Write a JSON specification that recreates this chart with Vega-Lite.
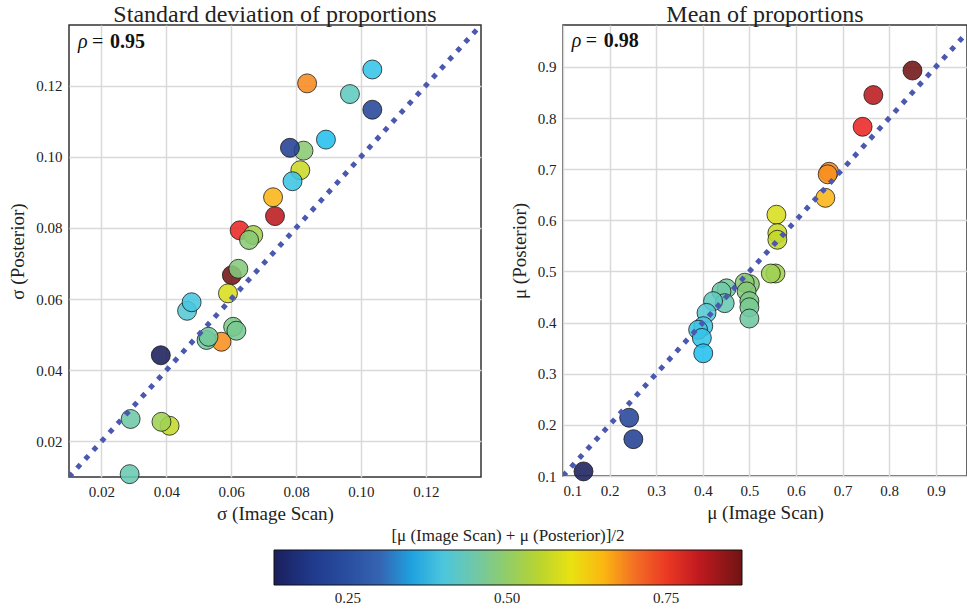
{
  "$schema": "https://vega.github.io/schema/vega-lite/v6.json",
  "padding": {"left": 8, "top": 2, "right": 0, "bottom": 0},
  "background": "white",
  "config": {
    "font": "Liberation Serif",
    "view": {"stroke": "#333333", "strokeWidth": 1.5},
    "concat": {"spacing": 27},
    "axis": {
      "grid": true, "gridColor": "#d9d9d9", "gridWidth": 1.5,
      "domain": false, "ticks": false,
      "labelFont": "Liberation Serif", "labelFontSize": 15, "labelColor": "#222222",
      "titleFont": "Liberation Serif", "titleFontSize": 19, "titleFontWeight": "normal", "titleColor": "#222222",
      "labelPadding": 7
    },
    "title": {"font": "Liberation Serif", "fontSize": 24, "fontWeight": "normal", "color": "#222222", "offset": -2},
    "legend": {"labelFont": "Liberation Serif", "titleFont": "Liberation Serif"}
  },
  "datasets": {
    "pts": [
      {"sd_img": 0.0602, "sd_post": 0.0667, "mu_img": 0.850, "mu_post": 0.893, "c": 0.871},
      {"sd_img": 0.0735, "sd_post": 0.0833, "mu_img": 0.766, "mu_post": 0.845, "c": 0.806},
      {"sd_img": 0.0626, "sd_post": 0.0793, "mu_img": 0.743, "mu_post": 0.783, "c": 0.763},
      {"sd_img": 0.0834, "sd_post": 0.1206, "mu_img": 0.671, "mu_post": 0.695, "c": 0.683},
      {"sd_img": 0.0570, "sd_post": 0.0480, "mu_img": 0.668, "mu_post": 0.690, "c": 0.679},
      {"sd_img": 0.0729, "sd_post": 0.0886, "mu_img": 0.663, "mu_post": 0.644, "c": 0.653},
      {"sd_img": 0.0590, "sd_post": 0.0616, "mu_img": 0.558, "mu_post": 0.611, "c": 0.585},
      {"sd_img": 0.0813, "sd_post": 0.0962, "mu_img": 0.560, "mu_post": 0.575, "c": 0.568},
      {"sd_img": 0.0410, "sd_post": 0.0244, "mu_img": 0.560, "mu_post": 0.562, "c": 0.561},
      {"sd_img": 0.0668, "sd_post": 0.0780, "mu_img": 0.556, "mu_post": 0.496, "c": 0.526},
      {"sd_img": 0.0385, "sd_post": 0.0255, "mu_img": 0.546, "mu_post": 0.496, "c": 0.521},
      {"sd_img": 0.0823, "sd_post": 0.1017, "mu_img": 0.501, "mu_post": 0.475, "c": 0.488},
      {"sd_img": 0.0655, "sd_post": 0.0766, "mu_img": 0.490, "mu_post": 0.478, "c": 0.484},
      {"sd_img": 0.0622, "sd_post": 0.0685, "mu_img": 0.494, "mu_post": 0.461, "c": 0.478},
      {"sd_img": 0.0606, "sd_post": 0.0522, "mu_img": 0.500, "mu_post": 0.442, "c": 0.471},
      {"sd_img": 0.0616, "sd_post": 0.0511, "mu_img": 0.500, "mu_post": 0.430, "c": 0.465},
      {"sd_img": 0.0524, "sd_post": 0.0485, "mu_img": 0.500, "mu_post": 0.408, "c": 0.454},
      {"sd_img": 0.0530, "sd_post": 0.0494, "mu_img": 0.451, "mu_post": 0.467, "c": 0.459},
      {"sd_img": 0.0290, "sd_post": 0.0263, "mu_img": 0.440, "mu_post": 0.461, "c": 0.451},
      {"sd_img": 0.0287, "sd_post": 0.0108, "mu_img": 0.447, "mu_post": 0.438, "c": 0.443},
      {"sd_img": 0.0966, "sd_post": 0.1176, "mu_img": 0.422, "mu_post": 0.442, "c": 0.432},
      {"sd_img": 0.0464, "sd_post": 0.0567, "mu_img": 0.408, "mu_post": 0.419, "c": 0.414},
      {"sd_img": 0.0478, "sd_post": 0.0591, "mu_img": 0.401, "mu_post": 0.393, "c": 0.397},
      {"sd_img": 0.0789, "sd_post": 0.0931, "mu_img": 0.390, "mu_post": 0.386, "c": 0.388},
      {"sd_img": 0.1035, "sd_post": 0.1245, "mu_img": 0.398, "mu_post": 0.370, "c": 0.384},
      {"sd_img": 0.0892, "sd_post": 0.1048, "mu_img": 0.401, "mu_post": 0.340, "c": 0.371},
      {"sd_img": 0.1035, "sd_post": 0.1132, "mu_img": 0.242, "mu_post": 0.214, "c": 0.228},
      {"sd_img": 0.0781, "sd_post": 0.1025, "mu_img": 0.251, "mu_post": 0.172, "c": 0.212},
      {"sd_img": 0.0383, "sd_post": 0.0442, "mu_img": 0.144, "mu_post": 0.109, "c": 0.127}
    ],
    "diagL": [{"v": 0.01}, {"v": 0.137}],
    "diagR": [{"v": 0.1}, {"v": 0.967}]
  },
  "hconcat": [
    {
      "width": 412, "height": 452,
      "title": {"text": "Standard deviation of proportions"},
      "layer": [
        {
          "data": {"name": "pts"},
          "mark": {"type": "circle", "size": 360, "opacity": 1, "fillOpacity": 0.88, "stroke": "#111111", "strokeWidth": 1, "strokeOpacity": 0.75},
          "encoding": {
            "x": {"field": "sd_img", "type": "quantitative", "title": "σ (Image Scan)",
              "scale": {"domain": [0.01, 0.137], "nice": false, "zero": false},
              "axis": {"values": [0.02, 0.04, 0.06, 0.08, 0.10, 0.12], "format": ".2f", "titlePadding": 5, "labelFont": "Liberation Serif", "labelFontSize": 15}},
            "y": {"field": "sd_post", "type": "quantitative", "title": "σ (Posterior)",
              "scale": {"domain": [0.01, 0.137], "nice": false, "zero": false},
              "axis": {"values": [0.02, 0.04, 0.06, 0.08, 0.10, 0.12], "format": ".2f", "titlePadding": 8, "labelFont": "Liberation Serif", "labelFontSize": 15}},
            "color": {"field": "c", "type": "quantitative", "title": "[μ (Image Scan) + μ (Posterior)]/2",
              "scale": {"domain": [0.134, 0.18, 0.25, 0.318, 0.369, 0.41, 0.45, 0.48, 0.549, 0.616, 0.668, 0.71, 0.769, 0.869],
                "range": ["#1a1f5a", "#1c3588", "#2a4ea0", "#3a6cb8", "#20c0f0", "#58c8d8", "#70c8a8", "#88c878", "#b8d430", "#f8e600", "#f8a020", "#f06028", "#e81c24", "#701414"],
                "clamp": true},
              "legend": {"orient": "none", "direction": "horizontal", "legendX": 205, "legendY": 503,
                "gradientLength": 468, "gradientThickness": 35, "gradientStrokeColor": "#111111", "gradientStrokeWidth": 1,
                "values": [0.25, 0.5, 0.75], "format": ".2f", "labelFontSize": 15, "labelColor": "#222222", "labelOffset": 6, "labelFont": "Liberation Serif",
                "titleFontSize": 17, "titleFontWeight": "normal", "titleColor": "#222222", "titleAnchor": "middle", "titlePadding": 5, "titleLimit": 0}}
          }
        },
        {
          "data": {"name": "diagL"},
          "mark": {"type": "line", "color": "#4a58b0", "strokeWidth": 5, "strokeDash": [5, 7], "clip": true},
          "encoding": {"x": {"field": "v", "type": "quantitative"}, "y": {"field": "v", "type": "quantitative"}}
        },
        {
          "data": {"values": [{}]},
          "mark": {"type": "text", "text": "ρ", "fontStyle": "italic", "fontSize": 20, "align": "left", "baseline": "middle", "color": "#111111"},
          "encoding": {"x": {"datum": 0.0128}, "y": {"datum": 0.1322}}
        },
        {
          "data": {"values": [{}]},
          "mark": {"type": "text", "text": "=", "fontSize": 20, "align": "left", "baseline": "middle", "color": "#111111"},
          "encoding": {"x": {"datum": 0.0171}, "y": {"datum": 0.1322}}
        },
        {
          "data": {"values": [{}]},
          "mark": {"type": "text", "text": "0.95", "fontSize": 20, "fontWeight": "bold", "align": "left", "baseline": "middle", "color": "#111111"},
          "encoding": {"x": {"datum": 0.0226}, "y": {"datum": 0.1322}}
        }
      ]
    },
    {
      "width": 404, "height": 451,
      "title": {"text": "Mean of proportions"},
      "layer": [
        {
          "data": {"name": "pts"},
          "mark": {"type": "circle", "size": 360, "opacity": 1, "fillOpacity": 0.88, "stroke": "#111111", "strokeWidth": 1, "strokeOpacity": 0.75},
          "encoding": {
            "x": {"field": "mu_img", "type": "quantitative", "title": "μ (Image Scan)",
              "scale": {"domain": [0.1, 0.967], "nice": false, "zero": false},
              "axis": {"values": [0.1, 0.2, 0.3, 0.4, 0.5, 0.6, 0.7, 0.8, 0.9], "format": ".1f", "titlePadding": 5, "labelFont": "Liberation Serif", "labelFontSize": 15}},
            "y": {"field": "mu_post", "type": "quantitative", "title": "μ (Posterior)",
              "scale": {"domain": [0.1, 0.982], "nice": false, "zero": false},
              "axis": {"values": [0.1, 0.2, 0.3, 0.4, 0.5, 0.6, 0.7, 0.8, 0.9], "format": ".1f", "titlePadding": 8, "labelFont": "Liberation Serif", "labelFontSize": 15}},
            "color": {"field": "c", "type": "quantitative", "title": "[μ (Image Scan) + μ (Posterior)]/2",
              "scale": {"domain": [0.134, 0.18, 0.25, 0.318, 0.369, 0.41, 0.45, 0.48, 0.549, 0.616, 0.668, 0.71, 0.769, 0.869],
                "range": ["#1a1f5a", "#1c3588", "#2a4ea0", "#3a6cb8", "#20c0f0", "#58c8d8", "#70c8a8", "#88c878", "#b8d430", "#f8e600", "#f8a020", "#f06028", "#e81c24", "#701414"],
                "clamp": true}}
          }
        },
        {
          "data": {"name": "diagR"},
          "mark": {"type": "line", "color": "#4a58b0", "strokeWidth": 5, "strokeDash": [5, 7], "clip": true},
          "encoding": {"x": {"field": "v", "type": "quantitative"}, "y": {"field": "v", "type": "quantitative"}}
        },
        {
          "data": {"values": [{}]},
          "mark": {"type": "text", "text": "ρ", "fontStyle": "italic", "fontSize": 20, "align": "left", "baseline": "middle", "color": "#111111"},
          "encoding": {"x": {"datum": 0.1187}, "y": {"datum": 0.951}}
        },
        {
          "data": {"values": [{}]},
          "mark": {"type": "text", "text": "=", "fontSize": 20, "align": "left", "baseline": "middle", "color": "#111111"},
          "encoding": {"x": {"datum": 0.1487}, "y": {"datum": 0.951}}
        },
        {
          "data": {"values": [{}]},
          "mark": {"type": "text", "text": "0.98", "fontSize": 20, "fontWeight": "bold", "align": "left", "baseline": "middle", "color": "#111111"},
          "encoding": {"x": {"datum": 0.1874}, "y": {"datum": 0.951}}
        }
      ]
    }
  ],
  "resolve": {"scale": {"color": "shared"}}
}
